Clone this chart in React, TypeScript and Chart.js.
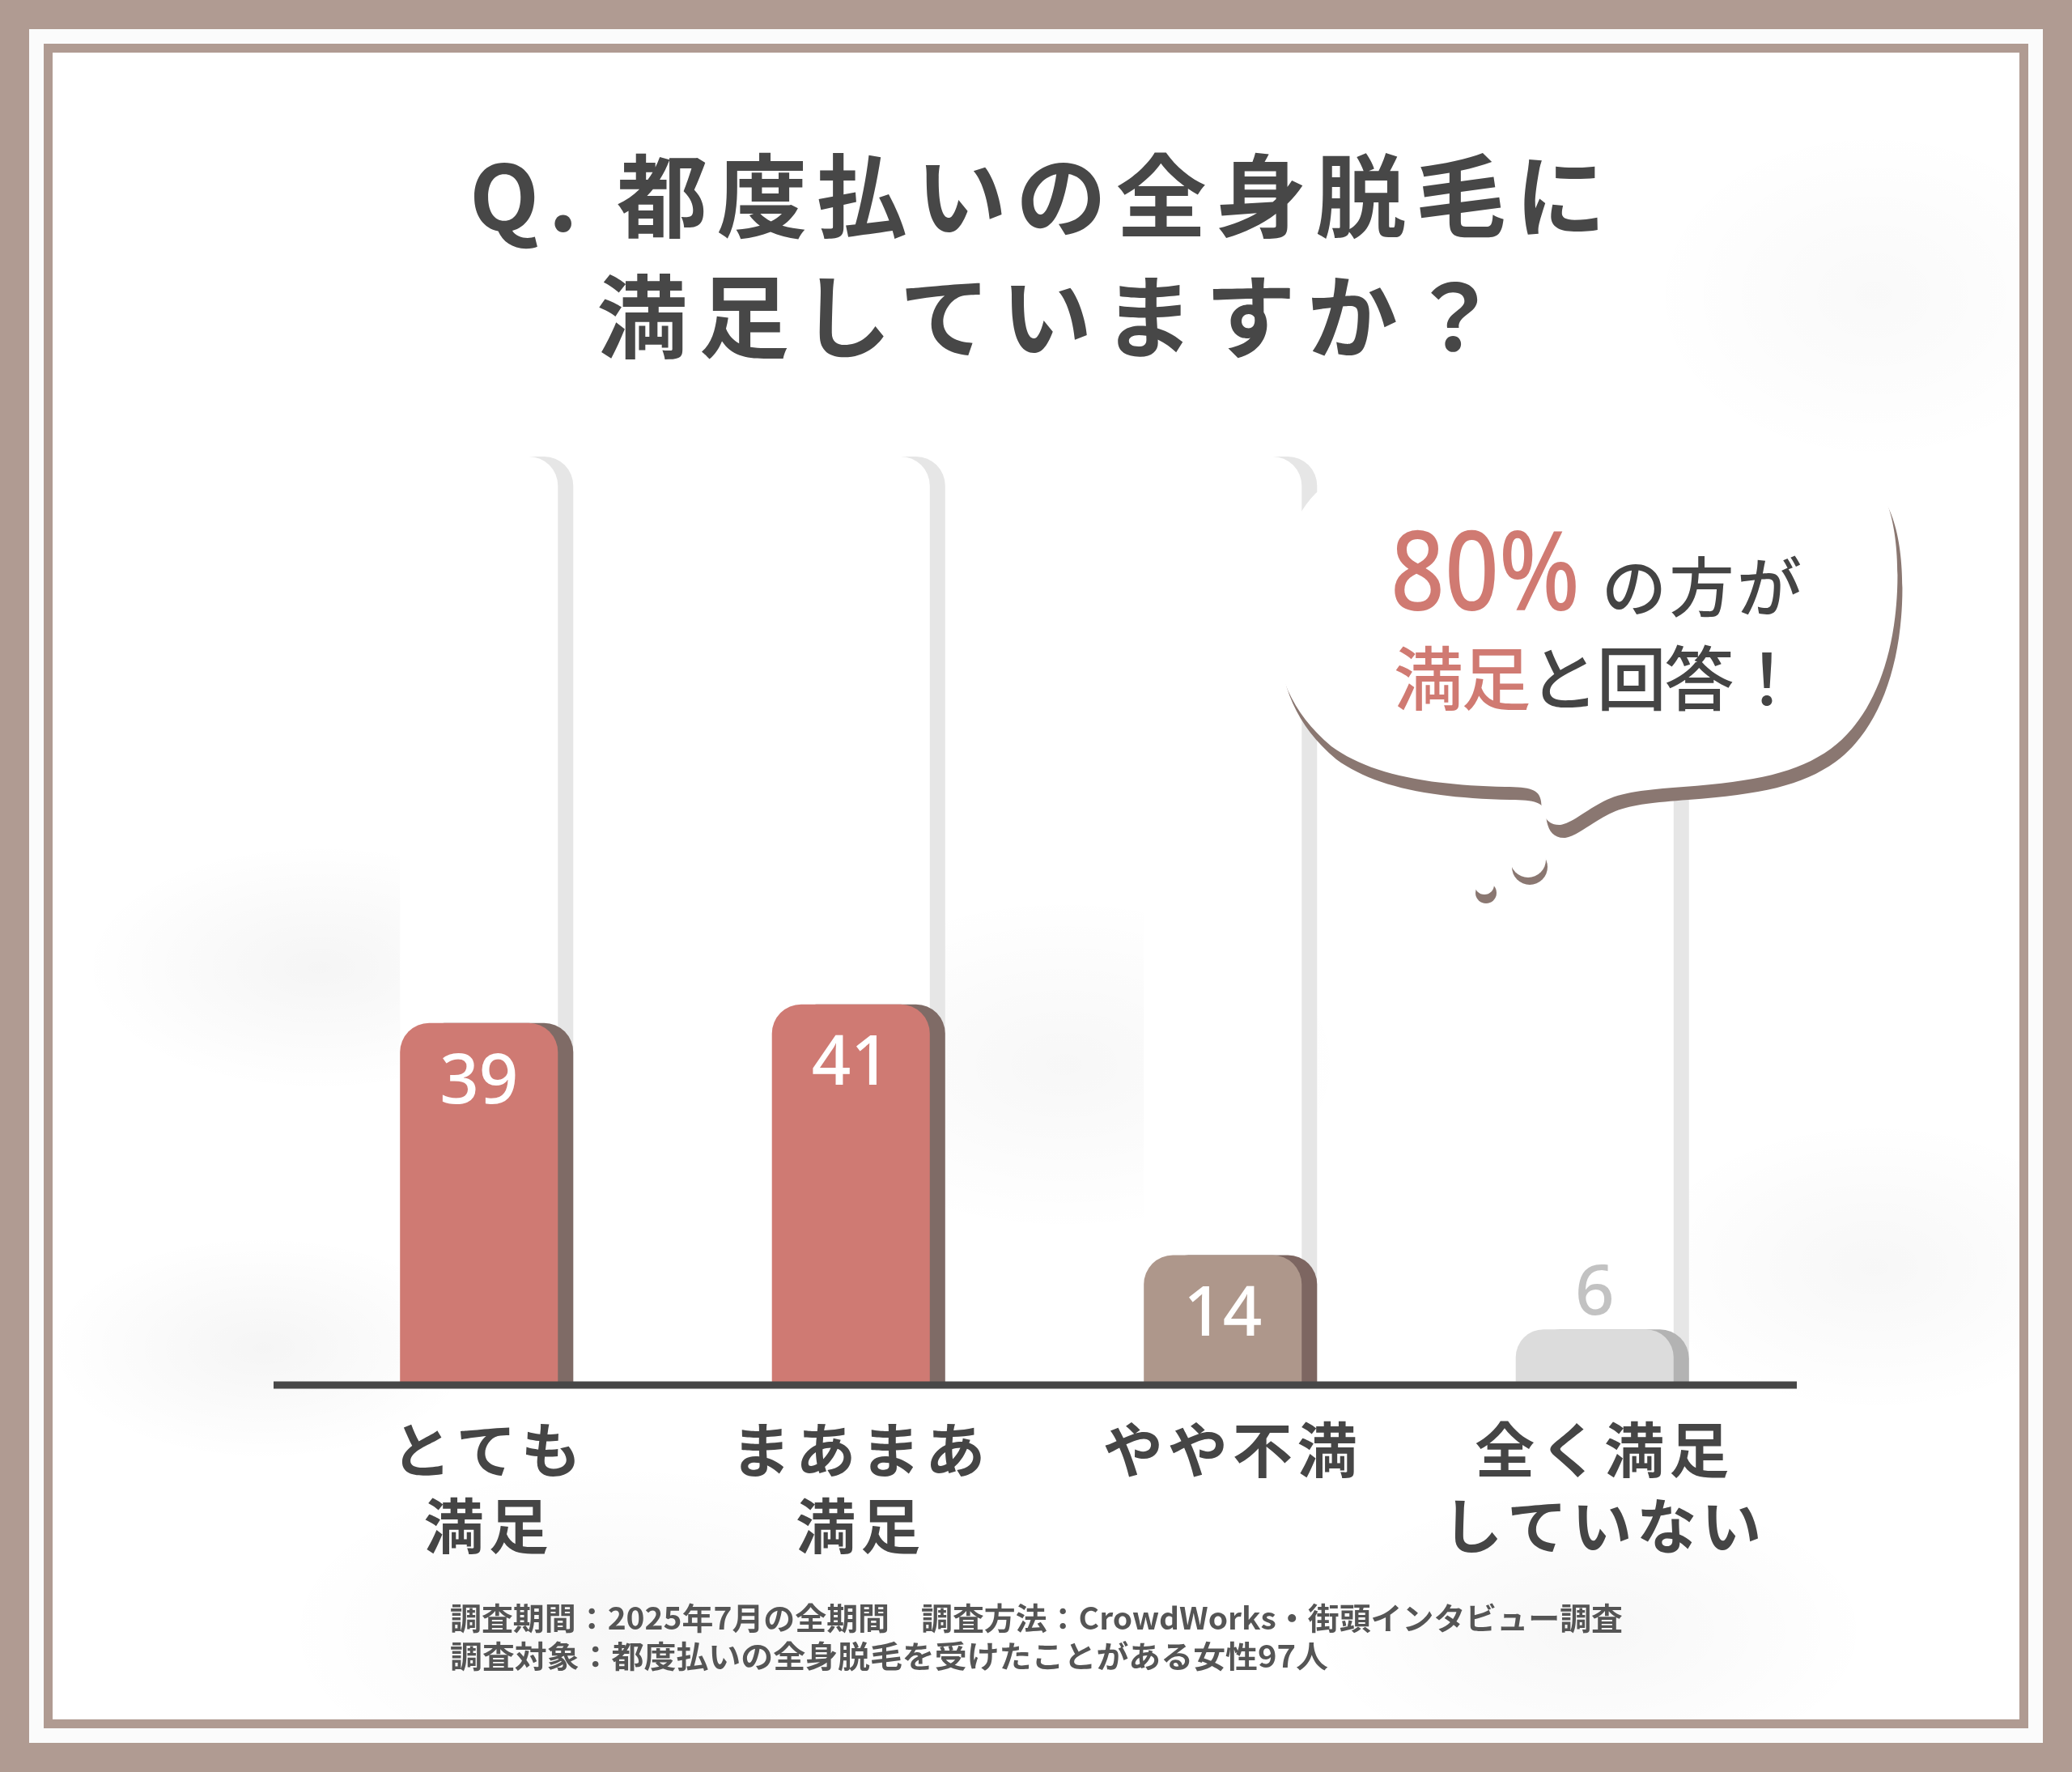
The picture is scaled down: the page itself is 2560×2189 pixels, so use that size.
import React, { useEffect, useRef } from "react";
import { Chart, registerables } from "chart.js";

Chart.register(...registerables);

// ---- data ----
const categories: string[][] = [["とても", "満足"], ["まあまあ", "満足"], ["やや不満"], ["全く満足", "していない"]];
const values: number[] = [39, 41, 14, 6];
const trackValues: number[] = [100, 100, 100, 100];
const barColors: string[] = ["#cf7a73", "#cf7a73", "#ae978b", "#dcdcdc"];
const barShadowColors: string[] = ["#7f6b66", "#7f6b66", "#7d6661", "#b3b3b3"];
const trackShadowColors: string[] = ["#e6e6e6", "#e6e6e6", "#e6e6e6", "#e6e6e6"];
const labelColors: string[] = ["#ffffff", "#ffffff", "#ffffff", "#c2c2c2"];
const yMin = 0;
const yMax = 100;

const titleLines: string[] = ["Q. 都度払いの全身脱毛に", "満足していますか？"];
const footerLines: string[] = [
  "調査期間：2025年7月の全期間　調査方法：CrowdWorks・街頭インタビュー調査",
  "調査対象：都度払いの全身脱毛を受けたことがある女性97人",
];

const W = 2560;
const H = 2189;
const RADIUS = 36;
const SHADOW_OFF = 19;

const shadowPlugin = {
  id: "barShadows",
  beforeDraw(chart: any) {
    (chart.ctx as any).letterSpacing = "6px";
  },
  beforeDatasetDraw(chart: any, args: any) {
    const ds: any = chart.data.datasets[args.index];
    const colors: string[] | undefined = ds.shadowColors;
    if (!colors) return;
    const ctx = chart.ctx;
    args.meta.data.forEach((el: any, i: number) => {
      const p = el.getProps(["x", "y", "base", "width"], true);
      const h = p.base - p.y;
      if (!(h > 0)) return;
      const r = Math.min(RADIUS, p.width / 2, h);
      ctx.save();
      ctx.fillStyle = colors[i];
      ctx.beginPath();
      ctx.roundRect(p.x - p.width / 2 + SHADOW_OFF, p.y, p.width, h, [r, r, 0, 0]);
      ctx.fill();
      ctx.restore();
    });
  },
};

const labelPlugin = {
  id: "valueLabels",
  afterDatasetsDraw(chart: any) {
    const ctx = chart.ctx;
    const meta = chart.getDatasetMeta(0);
    const yScale = chart.scales.y;
    // axis line
    const y0 = yScale.getPixelForValue(0);
    ctx.save();
    ctx.fillStyle = "#474747";
    ctx.fillRect(chart.chartArea.left - 24, y0 - 4.5, chart.chartArea.right - chart.chartArea.left + 44, 9);
    ctx.restore();

    ctx.save();
    (ctx as any).letterSpacing = "0px";
    ctx.font = "500 85px 'Noto Sans', sans-serif";
    ctx.textAlign = "center";
    ctx.textBaseline = "middle";
    meta.data.forEach((el: any, i: number) => {
      const v = values[i];
      const p = el.getProps(["x", "y", "base"], true);
      ctx.fillStyle = labelColors[i];
      const inside = p.base - p.y > 120;
      ctx.fillText(String(v), p.x, inside ? p.y + 75 : p.y - 42);
    });
    ctx.restore();
  },
};

function ChartCanvas() {
  const ref = useRef<HTMLCanvasElement | null>(null);
  useEffect(() => {
    if (!ref.current) return;
    const chart = new Chart(ref.current, {
      type: "bar",
      data: {
        labels: categories as any,
        datasets: [
          {
            label: "回答",
            data: values,
            backgroundColor: barColors,
            borderRadius: { topLeft: RADIUS, topRight: RADIUS, bottomLeft: 0, bottomRight: 0 },
            borderSkipped: false,
            grouped: false,
            order: 1,
            barPercentage: 0.4245,
            categoryPercentage: 1,
            shadowColors: barShadowColors,
          } as any,
          {
            label: "track",
            data: trackValues,
            backgroundColor: "#ffffff",
            borderRadius: { topLeft: RADIUS, topRight: RADIUS, bottomLeft: 0, bottomRight: 0 },
            borderSkipped: false,
            grouped: false,
            order: 2,
            barPercentage: 0.4245,
            categoryPercentage: 1,
            shadowColors: trackShadowColors,
          } as any,
        ],
      },
      options: {
        animation: false,
        responsive: false,
        devicePixelRatio: 1,
        layout: { padding: { left: 362, right: 360, top: 564, bottom: 257 } },
        plugins: { legend: { display: false }, tooltip: { enabled: false }, title: { display: false } },
        scales: {
          x: {
            type: "category",
            offset: true,
            grid: { display: false, drawTicks: false },
            border: { display: false },
            ticks: {
              autoSkip: false,
              maxRotation: 0,
              padding: 33,
              labelOffset: 12,
              color: "#454545",
              font: { family: "'Noto Sans CJK JP', sans-serif", size: 74, weight: "bold", lineHeight: 94 / 74 },
            },
            afterFit: (s: any) => {
              s.height = 221;
            },
          },
          y: { display: false, min: yMin, max: yMax },
        },
      },
      plugins: [shadowPlugin, labelPlugin],
    } as any);
    return () => chart.destroy();
  }, []);
  return (
    <canvas
      ref={ref}
      width={W}
      height={H}
      style={{ position: "absolute", left: 0, top: 0, width: W, height: H, zIndex: 2 }}
    />
  );
}

const bubblePath =
  "M 1575 770 C 1575 700 1595 640 1625 610 C 1660 575 1720 566 1800 563 " +
  "C 2000 556 2200 558 2290 575 C 2335 590 2347 660 2344 730 " +
  "C 2340 820 2310 890 2262 925 C 2220 955 2170 965 2080 972 " +
  "C 2040 975 2010 978 1990 986 C 1965 996 1945 1016 1928 1019 " +
  "C 1910 1020 1905 1005 1904 990 C 1902 975 1890 972 1860 972 " +
  "C 1760 970 1690 955 1645 922 C 1595 880 1575 830 1575 770 Z";

export default function App() {
  const jp = "'Noto Sans CJK JP', sans-serif";
  return (
    <div style={{ position: "absolute", left: 0, top: 0, width: W, height: H, background: "#b09b92", overflow: "hidden" }}>
      <div style={{ position: "absolute", left: 36, top: 36, width: 2488, height: 2117, background: "#fbfbfb" }} />
      <div
        style={{
          position: "absolute",
          left: 54,
          top: 54,
          width: 2452 - 22,
          height: 2081 - 22,
          border: "11px solid #b09b92",
          background:
            "radial-gradient(ellipse 420px 220px at 330px 1130px, rgba(0,0,0,0.04), rgba(0,0,0,0) 70%)," +
            "radial-gradient(ellipse 380px 200px at 260px 1600px, rgba(0,0,0,0.04), rgba(0,0,0,0) 70%)," +
            "radial-gradient(ellipse 500px 300px at 1250px 1250px, rgba(0,0,0,0.03), rgba(0,0,0,0) 70%)," +
            "radial-gradient(ellipse 420px 260px at 2250px 1500px, rgba(0,0,0,0.03), rgba(0,0,0,0) 70%)," +
            "radial-gradient(ellipse 600px 300px at 700px 1950px, rgba(0,0,0,0.03), rgba(0,0,0,0) 70%)," +
            "radial-gradient(ellipse 500px 260px at 1900px 1950px, rgba(0,0,0,0.03), rgba(0,0,0,0) 70%)," +
            "radial-gradient(ellipse 400px 300px at 2250px 300px, rgba(0,0,0,0.025), rgba(0,0,0,0) 70%)," +
            "#ffffff",
        }}
      />
      <ChartCanvas />
      <svg
        width={W}
        height={H}
        viewBox={`0 0 ${W} ${H}`}
        style={{ position: "absolute", left: 0, top: 0, zIndex: 3, pointerEvents: "none" }}
      >
        {/* title */}
        <text x={1282} y={285} textAnchor="middle" fontFamily={jp} fontWeight={700} fontSize={112} fill="#474747" textLength={1404} lengthAdjust="spacing">
          {titleLines[0]}
        </text>
        <text x={1295} y={434} textAnchor="middle" fontFamily={jp} fontWeight={700} fontSize={112} fill="#474747" textLength={1115} lengthAdjust="spacing">
          {titleLines[1]}
        </text>

        {/* speech bubble */}
        <path d={bubblePath} transform="translate(6,16)" fill="#8a7771" />
        <path d={bubblePath} fill="#ffffff" />
        <circle cx={1890} cy={1071} r={22} fill="#8a7771" />
        <circle cx={1888} cy={1062} r={22} fill="#ffffff" />
        <circle cx={1836} cy={1103} r={13} fill="#8a7771" />
        <circle cx={1834} cy={1093} r={12} fill="#ffffff" />
        <text x={1718} y={754} fontFamily="'Noto Sans', sans-serif" fontWeight={500} fontSize={136} fill="#d07a72" textLength={234} lengthAdjust="spacingAndGlyphs">
          80%
        </text>
        <text x={1979} y={755} fontFamily={jp} fontWeight={500} fontSize={80} fill="#444444" textLength={247} lengthAdjust="spacing">
          の方が
        </text>
        <text x={1722} y={871} fontFamily={jp} fontWeight={500} fontSize={86} textLength={504} lengthAdjust="spacing">
          <tspan fill="#d07a72">満足</tspan>
          <tspan fill="#444444">と回答！</tspan>
        </text>

        {/* footer */}
        <text x={556} y={2013} fontFamily={jp} fontWeight={700} fontSize={38} fill="#555555" textLength={1449} lengthAdjust="spacingAndGlyphs">
          {footerLines[0]}
        </text>
        <text x={556} y={2060} fontFamily={jp} fontWeight={700} fontSize={38} fill="#555555" textLength={1085} lengthAdjust="spacingAndGlyphs">
          {footerLines[1]}
        </text>
      </svg>
    </div>
  );
}
